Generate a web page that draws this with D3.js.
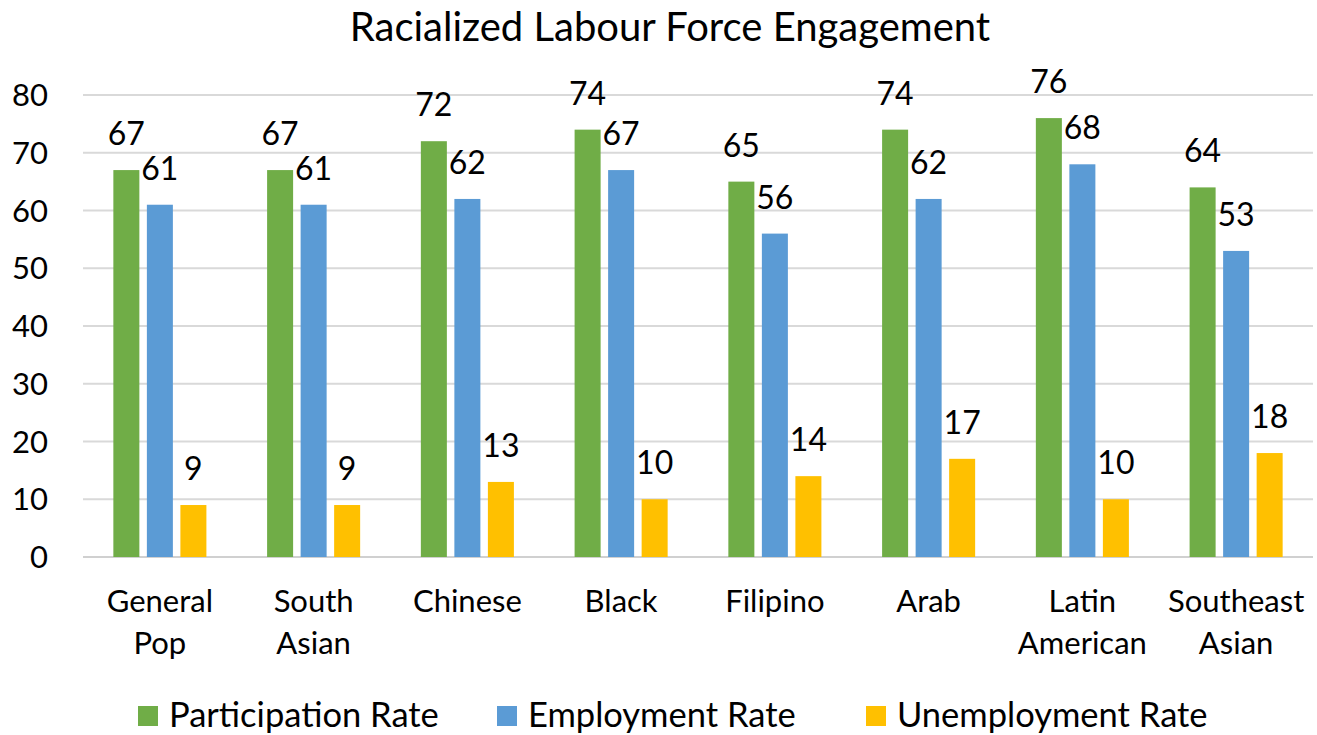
<!DOCTYPE html>
<html><head><meta charset="utf-8">
<script src="https://cdn.jsdelivr.net/npm/d3@7"></script>
<style>body{margin:0;background:#fff;} svg{display:block;} text{font-family:Lato,"Open Sans",sans-serif;fill:#000;}</style>
</head><body>
<svg id="c" width="1317" height="735"></svg>
<script>
const title = "Racialized Labour Force Engagement";
const categories = [["General","Pop"],["South","Asian"],["Chinese"],["Black"],["Filipino"],["Arab"],["Latin","American"],["Southeast","Asian"]];
const seriesNames = ["Participation Rate","Employment Rate","Unemployment Rate"];
const seriesColors = ["#70AD47","#5B9BD5","#FFC000"];
const participation = [67,67,72,74,65,74,76,64];
const employment = [61,61,62,67,56,62,68,53];
const unemployment = [9,9,13,10,14,17,10,18];
const yTicks = [0,10,20,30,40,50,60,70,80];

const seriesValues = [participation, employment, unemployment];
const svg = d3.select("#c");
const M = {left:83, right:1313, top:95, bottom:557};
const catKeys = categories.map(c=>c.join(" "));
const x0 = d3.scaleBand().domain(catKeys).range([M.left,M.right]).paddingInner(0.346).paddingOuter(0.173);
const x1 = d3.scaleBand().domain(seriesNames).range([0,x0.bandwidth()]).paddingInner(0.224).paddingOuter(0.112);
const y = d3.scaleLinear().domain([0,80]).range([M.bottom,M.top]);

// gridlines
svg.append("g").selectAll("line").data(yTicks).join("line")
  .attr("x1",M.left).attr("x2",M.right)
  .attr("y1",d=>y(d)).attr("y2",d=>y(d))
  .attr("stroke",d=>d===0?"#d0d0d0":"#d9d9d9").attr("stroke-width",2);

// y axis labels
const yAxis = d3.axisLeft(y).tickValues(yTicks).tickSize(0).tickPadding(0);
const ya = svg.append("g").attr("transform","translate(48,0)").call(yAxis);
ya.select(".domain").remove();
ya.selectAll("text").style("font-size","31px").style("font-family","Lato").attr("fill","#000").attr("dy","0.34em");

// bars
const groups = svg.append("g").selectAll("g").data(catKeys).join("g")
  .attr("transform",d=>`translate(${x0(d)},0)`);
seriesNames.forEach((s,si)=>{
  groups.append("rect")
    .attr("x",x1(s)).attr("width",x1.bandwidth())
    .attr("y",(d,i)=>y(seriesValues[si][i]))
    .attr("height",(d,i)=>y(0)-y(seriesValues[si][i]))
    .attr("fill",seriesColors[si]);
  groups.append("text")
    .attr("x",x1(s)+x1.bandwidth()/2)
    .attr("y",(d,i)=>y(seriesValues[si][i])-25)
    .attr("text-anchor","middle").style("font-size","32px")
    .text((d,i)=>seriesValues[si][i]);
});

// category labels
const xa = svg.append("g");
categories.forEach((c,i)=>{
  const cx = x0(catKeys[i])+x0.bandwidth()/2;
  const t = xa.append("text").attr("text-anchor","middle").style("font-size","31px");
  c.forEach((line,j)=>t.append("tspan").attr("x",cx).attr("y",612+j*42).text(line));
});

// title
svg.append("text").attr("x",670).attr("y",41).attr("text-anchor","middle").style("font-size","40px").text(title);

// legend
const legX = [138,497,866];
const leg = svg.append("g").selectAll("g").data(seriesNames).join("g")
  .attr("transform",(d,i)=>`translate(${legX[i]},706)`);
leg.append("rect").attr("width",20).attr("height",20).attr("fill",(d,i)=>seriesColors[i]);
leg.append("text").attr("x",31).attr("y",21).style("font-size","34.5px").text(d=>d);
</script>
</body></html>
